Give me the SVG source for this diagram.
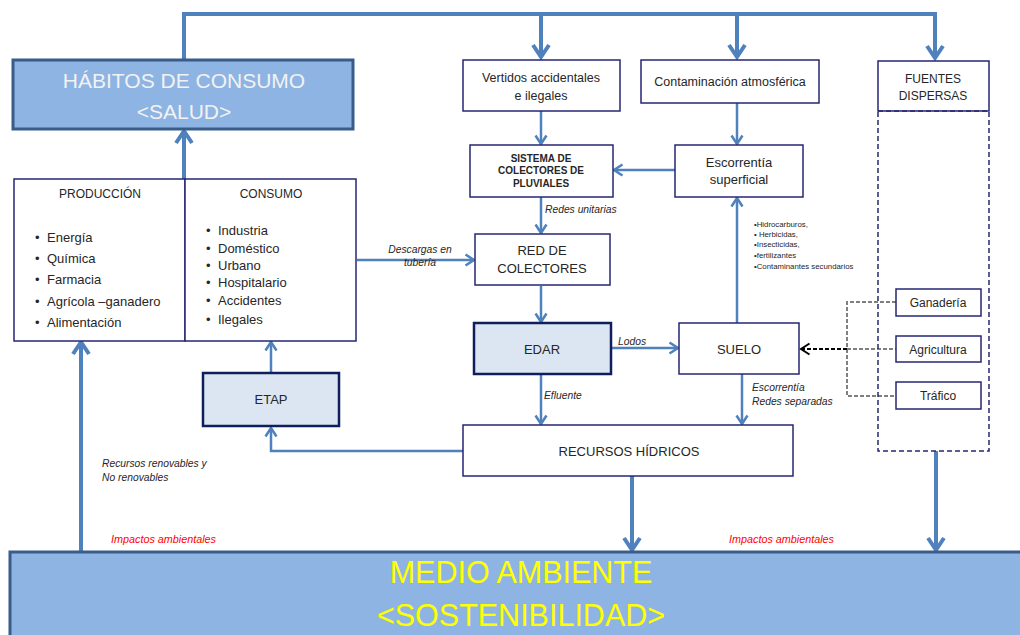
<svg xmlns="http://www.w3.org/2000/svg" width="1020" height="635" viewBox="0 0 1020 635">
<defs>
<marker id="ab" markerUnits="userSpaceOnUse" markerWidth="18" markerHeight="20" viewBox="0 0 18 20" refX="15" refY="10" orient="auto" overflow="visible"><path d="M3,2 L15,10 L3,18" fill="none" stroke="#4F81BD" stroke-width="4"/></marker>
<marker id="as" markerUnits="userSpaceOnUse" markerWidth="12" markerHeight="14" viewBox="0 0 12 14" refX="10.5" refY="7" orient="auto" overflow="visible"><path d="M2,1.5 L10.5,7 L2,12.5" fill="none" stroke="#4F81BD" stroke-width="2.5"/></marker>
<marker id="ak" markerUnits="userSpaceOnUse" markerWidth="12" markerHeight="14" viewBox="0 0 12 14" refX="10.5" refY="7" orient="auto" overflow="visible"><path d="M2,1.5 L10.5,7 L2,12.5" fill="none" stroke="#000" stroke-width="2"/></marker>
<style>
.t{font-family:"Liberation Sans",Arial,sans-serif;fill:#262626}
.box{fill:#fff;stroke:#262673;stroke-width:1.5}
.dbox{fill:#DCE6F2;stroke:#0F1F5C;stroke-width:2.5}
.big{fill:#8EB4E3;stroke:#385D8A;stroke-width:3}
.th{fill:none;stroke:#4F81BD;stroke-width:4}
.tn{fill:none;stroke:#4F81BD;stroke-width:2.5}
.lab{font-family:"Liberation Sans",Arial,sans-serif;font-style:italic;font-size:10.3px;fill:#262626}
.red{font-family:"Liberation Sans",Arial,sans-serif;font-style:italic;font-size:10.8px;fill:#FF0000}
.sm{font-family:"Liberation Sans",Arial,sans-serif;font-size:7.8px;fill:#262626}
</style>
</defs>

<g id="connectors">
<path class="th" d="M184,59 V14 H935 V58" marker-end="url(#ab)"/>
<path class="th" d="M541,14 V57" marker-end="url(#ab)"/>
<path class="th" d="M737,14 V57" marker-end="url(#ab)"/>
<path class="th" d="M184,179 V131" marker-end="url(#ab)"/>
<path class="th" d="M81,551 V342" marker-end="url(#ab)"/>
<path class="th" d="M632,476 V550" marker-end="url(#ab)"/>
<path class="th" d="M936,451 V550" marker-end="url(#ab)"/>
<path class="tn" d="M271,373 V342" marker-end="url(#as)"/>
<path class="tn" d="M463,451 H271 V428" marker-end="url(#as)"/>
<path class="tn" d="M541,111 V144" marker-end="url(#as)"/>
<path class="tn" d="M737,103 V144" marker-end="url(#as)"/>
<path class="tn" d="M675,170 H614" marker-end="url(#as)"/>
<path class="tn" d="M541,197 V233" marker-end="url(#as)"/>
<path class="tn" d="M357,260 H474" marker-end="url(#as)"/>
<path class="tn" d="M541,286 V322" marker-end="url(#as)"/>
<path class="tn" d="M611,348 H678" marker-end="url(#as)"/>
<path class="tn" d="M541,374 V424" marker-end="url(#as)"/>
<path class="tn" d="M737,323 V198" marker-end="url(#as)"/>
<path class="tn" d="M742,374 V424" marker-end="url(#as)"/>
<path d="M896,302 H847 V396 H896 M847,349 H896" fill="none" stroke="#7F7F7F" stroke-width="2" stroke-dasharray="4,2"/>
<path d="M847,349 H801" fill="none" stroke="#000" stroke-width="2" stroke-dasharray="4,2" marker-end="url(#ak)"/>
<text class="lab" x="545" y="213">Redes unitarias</text>
<text class="lab" x="420" y="253" text-anchor="middle">Descargas en</text>
<text class="lab" x="420" y="266" text-anchor="middle">tubería</text>
<text class="lab" x="618" y="345">Lodos</text>
<text class="lab" x="544" y="399">Efluente</text>
<text class="lab" x="752" y="391">Escorrentía</text>
<text class="lab" x="752" y="405">Redes separadas</text>
<text class="lab" x="102" y="467">Recursos renovables y</text>
<text class="lab" x="102" y="481">No renovables</text>
<text class="red" x="111" y="543">Impactos ambientales</text>
<text class="red" x="729" y="543">Impactos ambientales</text>
<text class="sm" x="754" y="227">•Hidrocarburos,</text>
<text class="sm" x="754" y="237">• Herbicidas,</text>
<text class="sm" x="754" y="247">•Insecticidas,</text>
<text class="sm" x="754" y="258">•fertilizantes</text>
<text class="sm" x="754" y="269">•Contaminantes secundarios</text>
</g>

<g id="habitos">
<rect class="big" x="13" y="60" width="340" height="69"/>
<text class="t" x="184" y="88" font-size="21" text-anchor="middle" style="fill:#F2F2F2">HÁBITOS DE CONSUMO</text>
<text class="t" x="184" y="119" font-size="21" text-anchor="middle" style="fill:#F2F2F2">&lt;SALUD&gt;</text>
</g>

<g id="produccion">
<rect class="box" x="14" y="179" width="171" height="162"/>
<text class="t" x="100" y="198" font-size="12" text-anchor="middle">PRODUCCIÓN</text>
<g class="t" font-size="13">
<text x="35" y="242">•</text><text x="47" y="242">Energía</text>
<text x="35" y="263">•</text><text x="47" y="263">Química</text>
<text x="35" y="284">•</text><text x="47" y="284">Farmacia</text>
<text x="35" y="306">•</text><text x="47" y="306">Agrícola –ganadero</text>
<text x="35" y="327">•</text><text x="47" y="327">Alimentación</text>
</g>
</g>

<g id="consumo">
<rect class="box" x="185" y="179" width="171" height="162"/>
<text class="t" x="271" y="198" font-size="12" text-anchor="middle">CONSUMO</text>
<g class="t" font-size="13">
<text x="206" y="235">•</text><text x="218" y="235">Industria</text>
<text x="206" y="253">•</text><text x="218" y="253">Doméstico</text>
<text x="206" y="270">•</text><text x="218" y="270">Urbano</text>
<text x="206" y="287">•</text><text x="218" y="287">Hospitalario</text>
<text x="206" y="305">•</text><text x="218" y="305">Accidentes</text>
<text x="206" y="324">•</text><text x="218" y="324">Ilegales</text>
</g>
</g>

<g id="vertidos">
<rect class="box" x="463" y="60" width="157" height="51"/>
<text class="t" x="541" y="82" font-size="12.5" text-anchor="middle">Vertidos accidentales</text>
<text class="t" x="541" y="100" font-size="12.5" text-anchor="middle">e ilegales</text>
</g>

<g id="contaminacion">
<rect class="box" x="641" y="60" width="178" height="43"/>
<text class="t" x="730" y="86" font-size="12.5" text-anchor="middle">Contaminación atmosférica</text>
</g>

<g id="fuentes">
<rect class="box" x="878" y="61" width="111" height="50"/>
<text class="t" x="933" y="83" font-size="12" text-anchor="middle">FUENTES</text>
<text class="t" x="933" y="100" font-size="12" text-anchor="middle">DISPERSAS</text>
<rect x="878" y="111" width="111" height="340" fill="none" stroke="#262673" stroke-width="1.5" stroke-dasharray="5,3"/>
</g>

<g id="sistema">
<rect class="box" x="470" y="145" width="143" height="52"/>
<text class="t" x="541" y="162" font-size="10" font-weight="bold" text-anchor="middle">SISTEMA DE</text>
<text class="t" x="541" y="174" font-size="10" font-weight="bold" text-anchor="middle">COLECTORES DE</text>
<text class="t" x="541" y="187" font-size="10" font-weight="bold" text-anchor="middle">PLUVIALES</text>
</g>

<g id="escorrentia">
<rect class="box" x="675" y="145" width="128" height="52"/>
<text class="t" x="739" y="167" font-size="13" text-anchor="middle">Escorrentía</text>
<text class="t" x="739" y="184" font-size="13" text-anchor="middle">superficial</text>
</g>

<g id="red">
<rect class="box" x="475" y="234" width="135" height="51"/>
<text class="t" x="542" y="255" font-size="13" text-anchor="middle">RED DE</text>
<text class="t" x="542" y="273" font-size="13" text-anchor="middle">COLECTORES</text>
</g>

<g id="edar">
<rect class="dbox" x="474" y="323" width="137" height="51"/>
<text class="t" x="542" y="354" font-size="13" text-anchor="middle">EDAR</text>
</g>

<g id="suelo">
<rect class="box" x="679" y="323" width="120" height="51"/>
<text class="t" x="739" y="354" font-size="13" text-anchor="middle">SUELO</text>
</g>

<g id="etap">
<rect class="dbox" x="203" y="373" width="136" height="53"/>
<text class="t" x="271" y="404" font-size="13" text-anchor="middle">ETAP</text>
</g>

<g id="recursos">
<rect class="box" x="463" y="425" width="330" height="51"/>
<text class="t" x="629" y="456" font-size="13" text-anchor="middle">RECURSOS HÍDRICOS</text>
</g>

<g id="ganaderia">
<rect class="box" x="896" y="289" width="85" height="27"/>
<text class="t" x="938" y="307" font-size="12" text-anchor="middle">Ganadería</text>
</g>
<g id="agricultura">
<rect class="box" x="896" y="336" width="85" height="26"/>
<text class="t" x="938" y="354" font-size="12" text-anchor="middle">Agricultura</text>
</g>
<g id="trafico">
<rect class="box" x="896" y="382" width="85" height="27"/>
<text class="t" x="938" y="400" font-size="12" text-anchor="middle">Tráfico</text>
</g>

<g id="medio">
<rect class="big" x="10" y="552" width="1015" height="90"/>
<text x="521" y="583" font-family="Liberation Sans,Arial,sans-serif" font-size="30.5" fill="#FFFF00" text-anchor="middle">MEDIO AMBIENTE</text>
<text x="521" y="626" font-family="Liberation Sans,Arial,sans-serif" font-size="30.5" fill="#FFFF00" text-anchor="middle">&lt;SOSTENIBILIDAD&gt;</text>
</g>
</svg>
